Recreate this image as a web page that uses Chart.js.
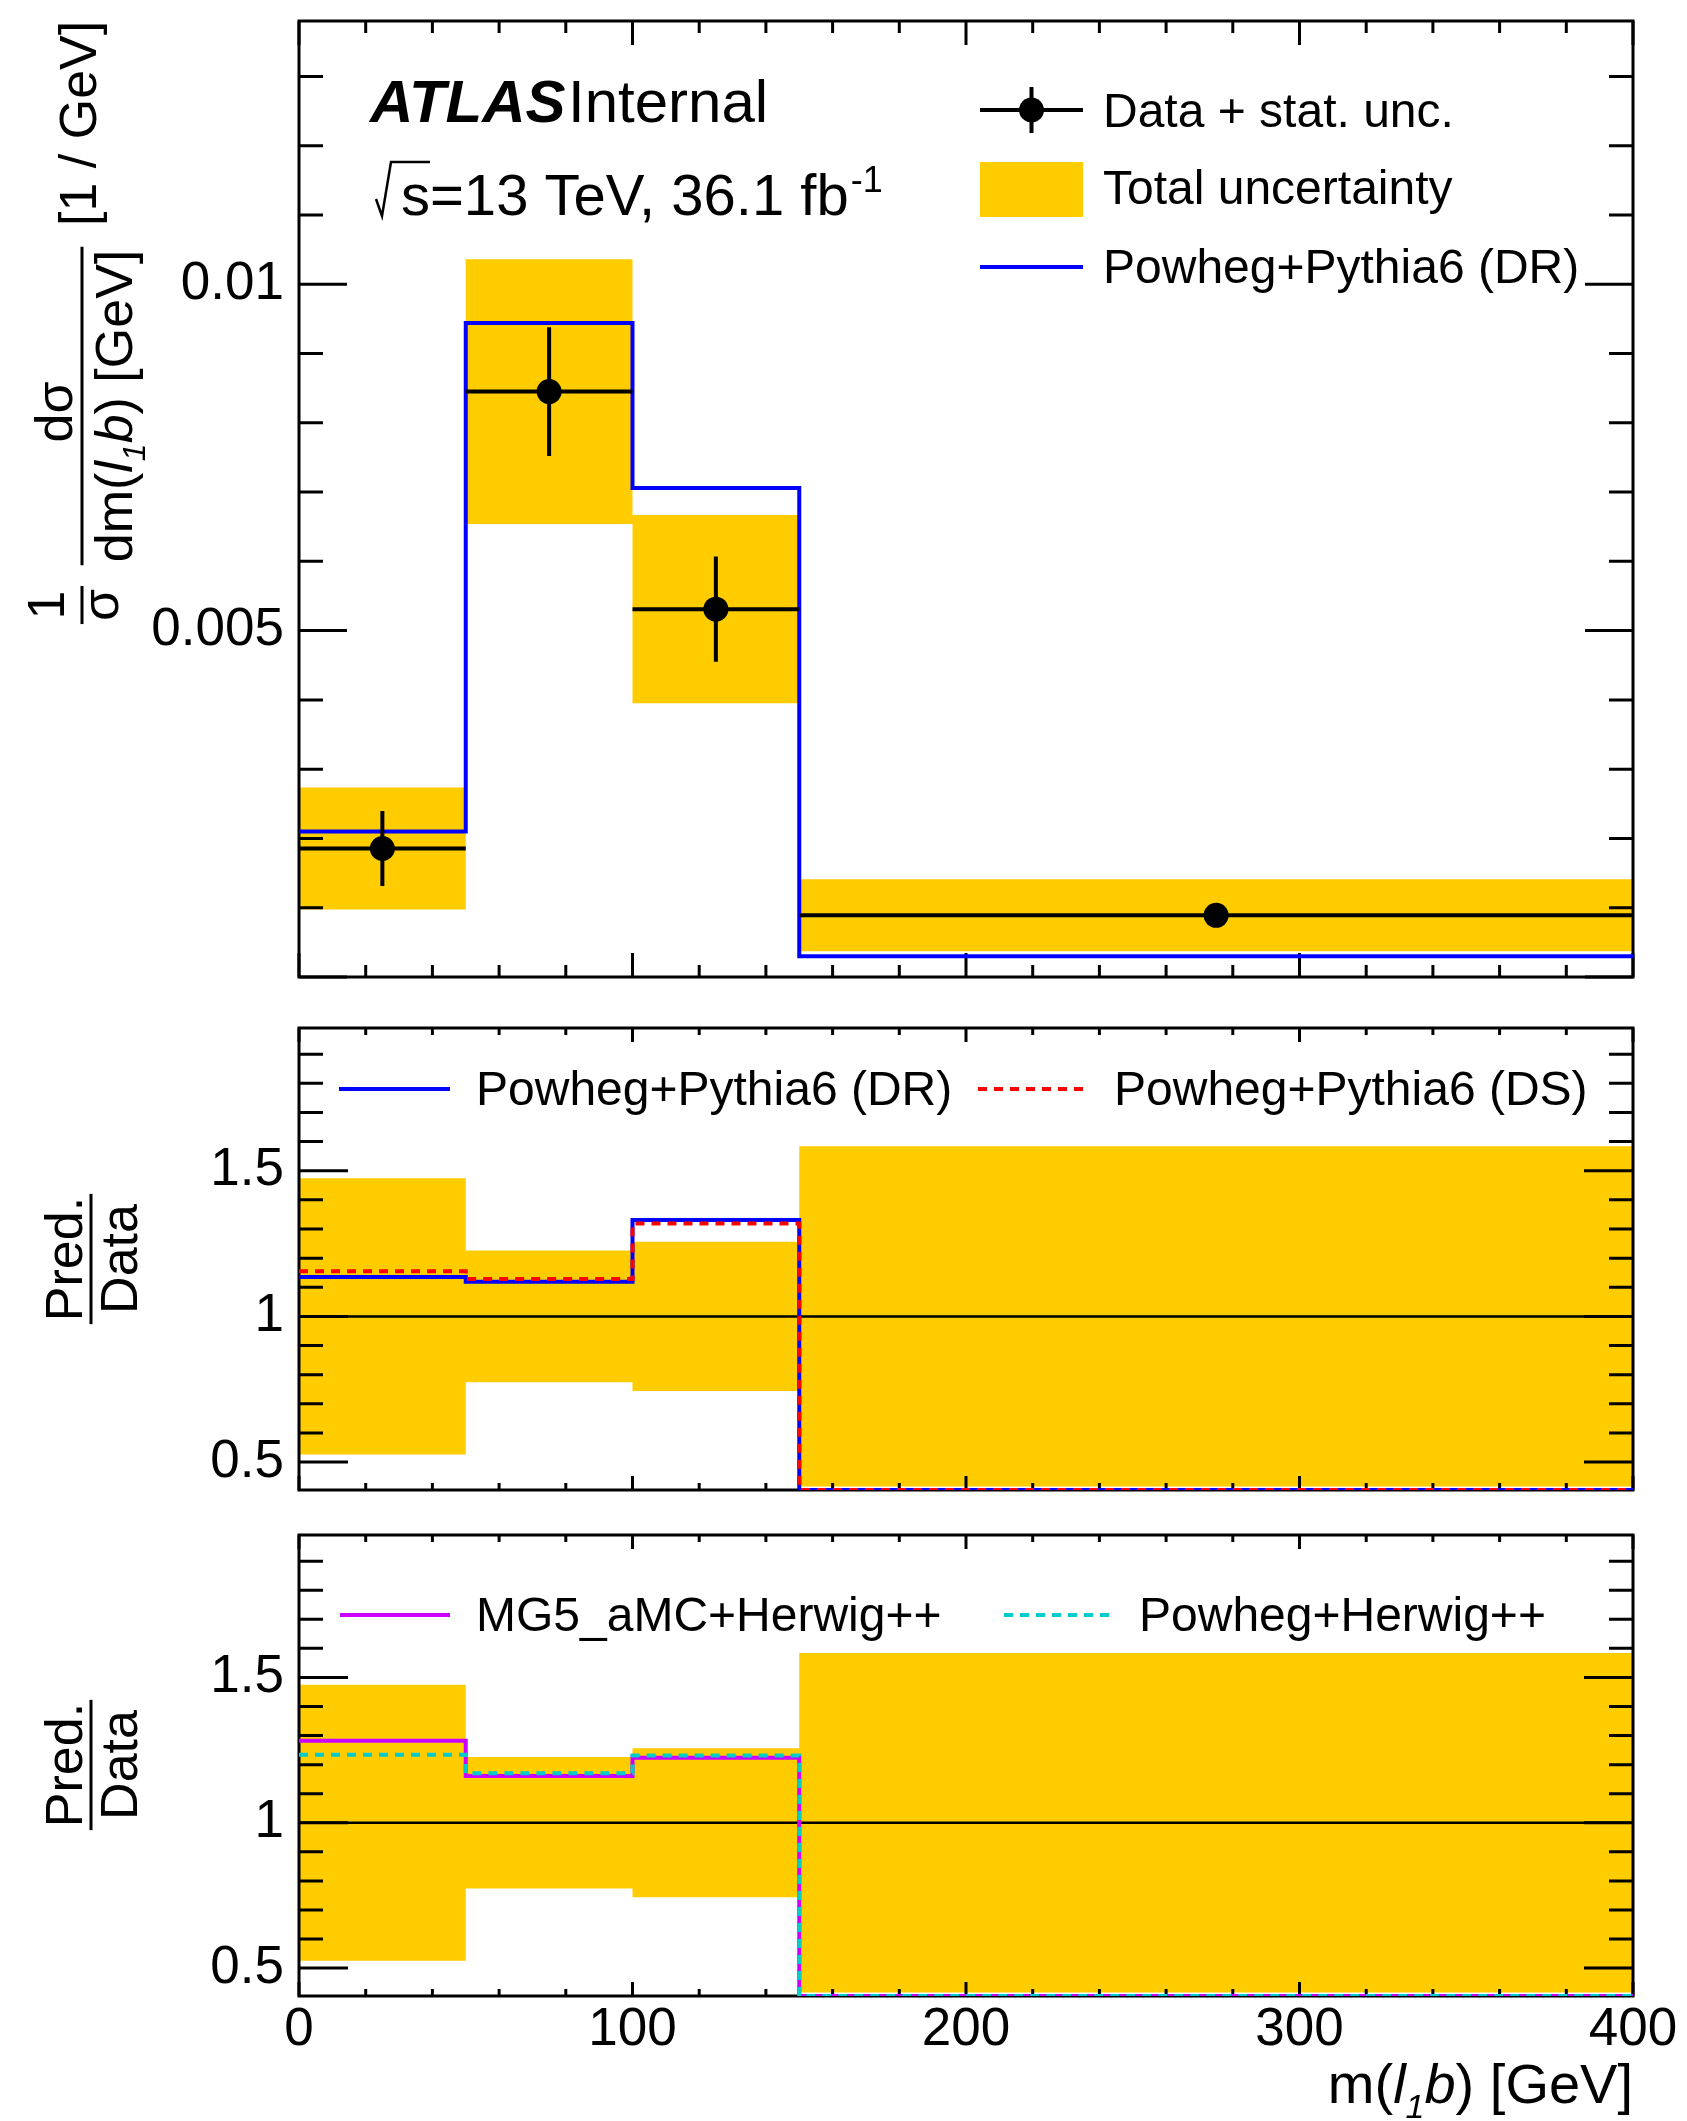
<!DOCTYPE html>
<html>
<head>
<meta charset="utf-8">
<title>m(l1b) normalised differential cross-section</title>
<script src="https://cdn.jsdelivr.net/npm/chart.js@4.4.1/dist/chart.umd.min.js"></script>
<style>
  html, body { margin: 0; padding: 0; background: #ffffff; }
  #page { position: relative; width: 1687px; height: 2121px; }
  #page canvas { position: absolute; left: 0; top: 0; }
</style>
</head>
<body>
<div id="page">
  <canvas id="mainPanel" width="1687" height="2121"></canvas>
  <canvas id="pythiaRatio" width="1687" height="2121"></canvas>
  <canvas id="herwigRatio" width="1687" height="2121"></canvas>
</div>
<script>
// ---- binning and measured values ----
const binEdges = [0, 50, 100, 150, 400];
const dataValues = [0.001855, 0.00845, 0.00531, 0.00089];
const dataStatErr = [0.00054, 0.00093, 0.00076, 0.00008];
const dataTotalErr = [0.00088, 0.00191, 0.00136, 0.00052];

// ---- predictions ----
const powhegPythiaDR = [0.00210, 0.00944, 0.00706, 0.00030];
const ratioPowhegPythiaDR = [1.135, 1.119, 1.331, 0.34];
const ratioPowhegPythiaDS = [1.155, 1.128, 1.319, 0.33];
const ratioMG5Herwig = [1.282, 1.161, 1.224, 0.37];
const ratioPowhegHerwig = [1.234, 1.170, 1.231, 0.36];

// ---- tick labels ----
const xTickValues = [0, 100, 200, 300, 400];
const xTickLabels = ['0', '100', '200', '300', '400'];
const mainTickValues = [0.005, 0.01];
const mainTickLabels = ['0.005', '0.01'];
const ratioTickValues = [0.5, 1, 1.5];
const ratioTickLabels = ['0.5', '1', '1.5'];

// ---- layout ----
const PAGE_W = 1687, PAGE_H = 2121;
const FRAME_L = 299, FRAME_R = 1633;
const MAIN_Y = { min: 0, max: 0.0138 };
const RATIO_Y = { min: 0.404, max: 1.99 };
const PANEL_MAIN = { top: 21, bottom: 977 };
const PANEL_MID = { top: 1028, bottom: 1490 };
const PANEL_LOW = { top: 1535, bottom: 1996 };
const X_AXIS_H = 125;

const YELLOW = '#ffcc00';
const BLUE = '#0000ff';
const RED = '#ff0000';
const VIOLET = '#cc00ff';
const CYAN = '#00cccc';
const FF = "'Liberation Sans', Arial, Helvetica, sans-serif";
const font = (size, style) => `${style || ''} ${size}px ${FF}`.trim();

// histogram outline: one point per left edge plus the closing right edge
function histPoints(values, floor) {
  const pts = values.map((v, i) => ({ x: binEdges[i], y: floor !== undefined ? Math.max(v, floor) : v }));
  const last = pts[pts.length - 1].y;
  pts.push({ x: binEdges[binEdges.length - 1], y: last });
  return pts;
}
const binCentre = i => (binEdges[i] + binEdges[i + 1]) / 2;

function horizontalBars(values) {
  const pts = [];
  values.forEach((v, i) => {
    pts.push({ x: binEdges[i], y: v }, { x: binEdges[i + 1], y: v }, { x: binEdges[i + 1], y: null });
  });
  return pts;
}
function verticalBars(values, errs) {
  const pts = [];
  values.forEach((v, i) => {
    const c = binCentre(i);
    pts.push({ x: c, y: v - errs[i] }, { x: c, y: v + errs[i] }, { x: c, y: null });
  });
  return pts;
}

const lineBase = { pointRadius: 0, fill: false, tension: 0, spanGaps: false };

// ---- rich text helpers ----
function richWidth(ctx, segs) {
  let w = 0;
  for (const s of segs) { ctx.font = s.font; w += ctx.measureText(s.t).width; }
  return w;
}
function drawRich(ctx, segs, x, y) {
  let cx = x;
  for (const s of segs) {
    ctx.font = s.font;
    ctx.fillText(s.t, cx, y + (s.dy || 0));
    cx += ctx.measureText(s.t).width;
  }
  return cx;
}
// text running bottom-to-top; baseX is the baseline position on the page
function drawUp(ctx, segs, baseX, y, align) {
  ctx.save();
  ctx.translate(baseX, y);
  ctx.rotate(-Math.PI / 2);
  const w = richWidth(ctx, segs);
  drawRich(ctx, segs, align === 'center' ? -w / 2 : 0, 0);
  ctx.restore();
  return w;
}
function mlbSegs(prefix, size, subSize, subDy) {
  return [
    { t: prefix + '(', font: font(size) },
    { t: 'l', font: font(size, 'italic') },
    { t: '1', font: font(subSize, 'italic'), dy: subDy },
    { t: 'b', font: font(size, 'italic') },
    { t: ')', font: font(size) }
  ];
}

// ---- frame with mirrored ticks ----
function drawFrame(chart, spec) {
  const { ctx, chartArea: a } = chart;
  const xs = chart.scales.x, ys = chart.scales.y;
  ctx.save();
  ctx.strokeStyle = '#000';
  ctx.lineWidth = 3;
  ctx.beginPath();
  for (let v = 0; v <= 400; v += 20) {
    const px = xs.getPixelForValue(v);
    const len = v % 100 === 0 ? spec.xMajor : spec.xMinor;
    ctx.moveTo(px, a.bottom); ctx.lineTo(px, a.bottom - len);
    ctx.moveTo(px, a.top); ctx.lineTo(px, a.top + len);
  }
  for (const t of spec.yTicks) {
    const py = ys.getPixelForValue(t.v);
    const len = t.major ? spec.yMajor : spec.yMinor;
    ctx.moveTo(a.left, py); ctx.lineTo(a.left + len, py);
    ctx.moveTo(a.right, py); ctx.lineTo(a.right - len, py);
  }
  ctx.stroke();
  ctx.strokeRect(a.left, a.top, a.right - a.left, a.bottom - a.top);
  ctx.restore();
}

const mainMinor = [];
for (let i = 0; i <= 13; i++) mainMinor.push({ v: i / 1000, major: i % 5 === 0 });
const ratioMinor = [];
for (let i = 5; i <= 19; i++) ratioMinor.push({ v: i / 10, major: i % 5 === 0 });

// frame is painted right after the uncertainty band so that curves sit on top of it
function framePlugin(spec) {
  return {
    id: 'frameAfterBand',
    afterDatasetDraw(chart, args) {
      if (args.index === 0) drawFrame(chart, spec);
    }
  };
}

function buildChart(canvasId, panel, yRange, yTicks, yLabels, datasets, plugins, showX) {
  const xH = showX ? X_AXIS_H : 0;
  return new Chart(document.getElementById(canvasId), {
    type: 'line',
    data: { datasets },
    options: {
      responsive: false,
      animation: false,
      devicePixelRatio: 1,
      events: [],
      layout: { padding: { left: 0, right: PAGE_W - FRAME_R, top: panel.top, bottom: PAGE_H - panel.bottom - xH } },
      plugins: { legend: { display: false }, tooltip: { enabled: false } },
      scales: {
        x: {
          type: 'linear', min: 0, max: 400,
          grid: { display: false, drawTicks: false }, border: { display: false },
          ticks: {
            display: showX, padding: 3, color: '#000', font: { family: FF, size: 53 },
            maxRotation: 0, autoSkip: false,
            callback: v => { const i = xTickValues.indexOf(v); return i >= 0 ? xTickLabels[i] : ''; }
          },
          afterBuildTicks: ax => { ax.ticks = xTickValues.map(v => ({ value: v })); },
          afterFit: ax => { ax.height = xH; ax.paddingLeft = 0; ax.paddingRight = 0; }
        },
        y: {
          type: 'linear', position: 'left', min: yRange.min, max: yRange.max,
          grid: { display: false, drawTicks: false }, border: { display: false },
          ticks: {
            padding: 15, color: '#000', font: { family: FF, size: 53 }, autoSkip: false,
            callback: v => { const i = yTicks.indexOf(v); return i >= 0 ? yLabels[i] : ''; }
          },
          afterBuildTicks: ax => { ax.ticks = yTicks.map(v => ({ value: v })); },
          afterFit: ax => { ax.width = FRAME_L; ax.paddingTop = 0; ax.paddingBottom = 0; }
        }
      }
    },
    plugins
  });
}

// ================= main panel =================
const bandUpper = dataValues.map((v, i) => v + dataTotalErr[i]);
const bandLower = dataValues.map((v, i) => v - dataTotalErr[i]);

const mainDatasets = [
  { ...lineBase, label: 'Total uncertainty', data: histPoints(bandUpper), stepped: true,
    borderWidth: 0, borderColor: 'rgba(0,0,0,0)', backgroundColor: YELLOW, fill: '+1', order: 6 },
  { ...lineBase, label: 'band low', data: histPoints(bandLower), stepped: true,
    borderWidth: 0, borderColor: 'rgba(0,0,0,0)', order: 7 },
  { ...lineBase, label: 'Powheg+Pythia6 (DR)', data: histPoints(powhegPythiaDR), stepped: true,
    borderColor: BLUE, borderWidth: 4, order: 3 },
  { ...lineBase, label: 'bin width', data: horizontalBars(dataValues), borderColor: '#000', borderWidth: 4, order: 2 },
  { ...lineBase, label: 'stat. unc.', data: verticalBars(dataValues, dataStatErr), borderColor: '#000', borderWidth: 4, order: 1 },
  { label: 'Data', data: dataValues.map((v, i) => ({ x: binCentre(i), y: v })), showLine: false,
    pointRadius: 12.5, pointBackgroundColor: '#000', pointBorderColor: '#000', pointBorderWidth: 0, order: 0 }
];

const mainText = {
  id: 'mainText',
  afterDraw(chart) {
    const ctx = chart.ctx;
    ctx.save();
    ctx.fillStyle = '#000';
    ctx.textBaseline = 'alphabetic';
    ctx.textAlign = 'left';

    // experiment label
    ctx.font = font(60, 'italic bold');
    ctx.fillText('ATLAS', 370, 122);
    ctx.font = font(60);
    ctx.fillText('Internal', 568, 122);

    // sqrt(s) line
    ctx.strokeStyle = '#000';
    ctx.lineWidth = 2.5;
    ctx.beginPath();
    ctx.moveTo(376, 199); ctx.lineTo(382, 216); ctx.lineTo(391, 162); ctx.lineTo(430, 162);
    ctx.stroke();
    ctx.font = font(58);
    ctx.fillText('s=13 TeV, 36.1 fb', 401, 215);
    const w = ctx.measureText('s=13 TeV, 36.1 fb').width;
    ctx.font = font(36);
    ctx.fillText('-1', 401 + w + 2, 192);

    // legend
    ctx.lineWidth = 4;
    ctx.beginPath();
    ctx.moveTo(980, 110); ctx.lineTo(1083, 110);
    ctx.moveTo(1031.5, 87); ctx.lineTo(1031.5, 133);
    ctx.stroke();
    ctx.beginPath(); ctx.arc(1031.5, 110, 12.5, 0, Math.PI * 2); ctx.fill();
    ctx.fillStyle = YELLOW;
    ctx.fillRect(980, 162, 103, 55);
    ctx.strokeStyle = BLUE;
    ctx.beginPath(); ctx.moveTo(980, 267); ctx.lineTo(1083, 267); ctx.stroke();
    ctx.fillStyle = '#000';
    ctx.font = font(48);
    ctx.fillText('Data + stat. unc.', 1103, 127);
    ctx.fillText('Total uncertainty', 1103, 204);
    ctx.fillText('Powheg+Pythia6 (DR)', 1103, 283);

    // y title: 1/sigma dsigma/dm(l1b) [1 / GeV]
    const num1 = drawUp(ctx, [{ t: '1', font: font(52) }], 64, 605, 'center');
    const den1 = drawUp(ctx, [{ t: 'σ', font: font(52) }], 118, 605, 'center');
    const bar1 = Math.max(num1, den1) + 6;
    ctx.fillRect(80.5, 605 - bar1 / 2, 3, bar1);

    drawUp(ctx, [{ t: 'dσ', font: font(52) }], 72, 412, 'center');
    const denSegs = mlbSegs('dm', 52, 32, 13).concat([{ t: ' [GeV]', font: font(52) }]);
    const denW = drawUp(ctx, denSegs, 132, 406, 'center');
    ctx.fillRect(80.5, 406 - denW / 2 - 3, 3, denW + 6);
    drawUp(ctx, [{ t: '[1 / GeV]', font: font(52) }], 96, 226, 'left');

    // x title, placed under the lowest panel
    const xSegs = mlbSegs('m', 56, 34, 15).concat([{ t: ' [GeV]', font: font(56) }]);
    const xw = richWidth(ctx, xSegs);
    drawRich(ctx, xSegs, FRAME_R - xw, 2103);
    ctx.restore();
  }
};

buildChart('mainPanel', PANEL_MAIN, MAIN_Y, mainTickValues, mainTickLabels, mainDatasets,
  [framePlugin({ xMajor: 24, xMinor: 12, yMajor: 48, yMinor: 24, yTicks: mainMinor }), mainText], false);

// ================= ratio panels =================
const relTotal = dataTotalErr.map((e, i) => e / dataValues[i]);
const ratioUpper = relTotal.map(r => 1 + r);
const ratioLower = relTotal.map(r => 1 - r);

function ratioDatasets(solid, solidColor, dashed, dashedColor, solidLabel, dashedLabel) {
  return [
    { ...lineBase, label: 'Total uncertainty', data: histPoints(ratioUpper), stepped: true,
      borderWidth: 0, borderColor: 'rgba(0,0,0,0)', backgroundColor: YELLOW, fill: '+1', order: 6 },
    { ...lineBase, label: 'band low', data: histPoints(ratioLower, RATIO_Y.min), stepped: true,
      borderWidth: 0, borderColor: 'rgba(0,0,0,0)', order: 7 },
    { ...lineBase, label: 'unity', data: [{ x: 0, y: 1 }, { x: 400, y: 1 }], borderColor: '#000', borderWidth: 2.5, order: 4 },
    { ...lineBase, label: solidLabel, data: histPoints(solid, RATIO_Y.min), stepped: true,
      borderColor: solidColor, borderWidth: 4, order: 3 },
    { ...lineBase, label: dashedLabel, data: histPoints(dashed, RATIO_Y.min), stepped: true,
      borderColor: dashedColor, borderWidth: 4, borderDash: [9, 7], order: 2 }
  ];
}

function ratioText(id, centreY, legendY, items) {
  return {
    id,
    afterDraw(chart) {
      const ctx = chart.ctx;
      ctx.save();
      ctx.fillStyle = '#000';
      ctx.textBaseline = 'alphabetic';
      // y title Pred./Data
      const wn = drawUp(ctx, [{ t: 'Pred.', font: font(52) }], 82, centreY, 'center');
      const wd = drawUp(ctx, [{ t: 'Data', font: font(52) }], 137, centreY, 'center');
      const bw = Math.max(wn, wd) + 6;
      ctx.fillRect(89.5, centreY - bw / 2, 3, bw);
      // legend
      ctx.lineWidth = 4;
      for (const it of items) {
        ctx.strokeStyle = it.color;
        ctx.setLineDash(it.dash || []);
        ctx.beginPath(); ctx.moveTo(it.x0, legendY); ctx.lineTo(it.x1, legendY); ctx.stroke();
        ctx.setLineDash([]);
        ctx.font = font(48);
        ctx.fillText(it.text, it.tx, legendY + 16);
      }
      ctx.restore();
    }
  };
}

const ratioFrame = { xMajor: 14, xMinor: 7, yMajor: 49, yMinor: 24, yTicks: ratioMinor };

buildChart('pythiaRatio', PANEL_MID, RATIO_Y, ratioTickValues, ratioTickLabels,
  ratioDatasets(ratioPowhegPythiaDR, BLUE, ratioPowhegPythiaDS, RED, 'Powheg+Pythia6 (DR)', 'Powheg+Pythia6 (DS)'),
  [framePlugin(ratioFrame), ratioText('pythiaText', 1259, 1089, [
    { color: BLUE, x0: 339, x1: 450, tx: 476, text: 'Powheg+Pythia6 (DR)' },
    { color: RED, dash: [9, 7], x0: 978, x1: 1089, tx: 1114, text: 'Powheg+Pythia6 (DS)' }
  ])], false);

buildChart('herwigRatio', PANEL_LOW, RATIO_Y, ratioTickValues, ratioTickLabels,
  ratioDatasets(ratioMG5Herwig, VIOLET, ratioPowhegHerwig, CYAN, 'MG5_aMC+Herwig++', 'Powheg+Herwig++'),
  [framePlugin(ratioFrame), ratioText('herwigText', 1765, 1615, [
    { color: VIOLET, x0: 340, x1: 450, tx: 476, text: 'MG5_aMC+Herwig++' },
    { color: CYAN, dash: [9, 7], x0: 1004, x1: 1115, tx: 1139, text: 'Powheg+Herwig++' }
  ])], true);
</script>
</body>
</html>
